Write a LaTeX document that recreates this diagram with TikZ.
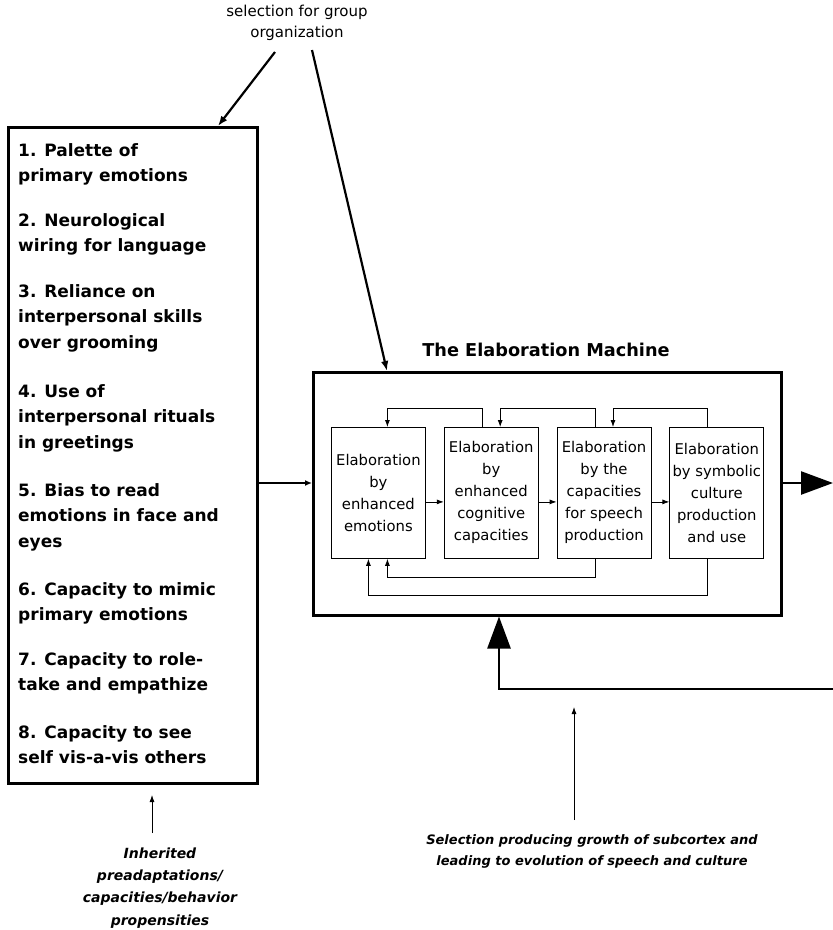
\documentclass[tikz,border=0pt]{standalone}
\usepackage{fontspec}
\setmainfont{DejaVu Sans}
\usetikzlibrary{positioning,arrows.meta}

\tikzset{
  itemtext/.style={anchor=base west, align=left, inner sep=0pt, font=\bfseries\fontsize{17}{25.5}\selectfont},
  elabbox/.style={draw, line width=0.8pt, minimum width=94pt, minimum height=131pt, align=center, inner sep=0pt, font=\fontsize{14.8}{22}\selectfont},
  captext/.style={anchor=base, align=center, inner sep=0pt, font=\bfseries\itshape\fontsize{14}{22.3}\selectfont},
  feed/.style={line width=0.8pt, -{Latex[length=7pt,width=5pt]}},
  toparrow/.style={line width=2.2pt, -{Latex[length=10pt,width=7.5pt]}},
  bigarrow/.style={line width=2.5pt, -{Triangle[length=32pt,width=23pt]}},
}

\begin{document}
\begin{tikzpicture}[x=1pt,y=1pt,yscale=-1]
\useasboundingbox (0,0) rectangle (833,930);

% top label
\node[anchor=base, align=center, inner sep=0pt, font=\fontsize{15}{20.5}\selectfont] (selgrp) at (297,37) {selection for group\\organization};
\coordinate (selL) at (275,52);
\coordinate (selR) at (312,50);

% preadaptations box
\node[draw, line width=2.5pt, minimum width=249pt, minimum height=656pt, anchor=north west, inner sep=0pt] (pal) at (7,126) {};
\foreach \yy/\txt [count=\i] in {
  181.5/{1. Palette of\\primary emotions},
  251.5/{2. Neurological\\wiring for language},
  348/{3. Reliance on\\interpersonal skills\\over grooming},
  448/{4. Use of\\interpersonal rituals\\in greetings},
  547/{5. Bias to read\\emotions in face and\\eyes},
  620.5/{6. Capacity to mimic\\primary emotions},
  690.5/{7. Capacity to role-\\take and empathize},
  763.5/{8. Capacity to see\\self vis-a-vis others}}
  \node[itemtext] (item\i) at (18,\yy) {\txt};
\coordinate (palin) at (218,126);

% the machine
\node[draw, line width=2.5pt, minimum width=468pt, minimum height=243pt, anchor=north west, inner sep=0pt] (mach) at (312,371) {};
\node[anchor=base, inner sep=0pt, font=\bfseries\fontsize{17.7}{20}\selectfont] (title) at (546,356) {The Elaboration Machine};
\coordinate (machin) at (387,371);

\node[elabbox, anchor=north west] (elabemo) at (331,427) {Elaboration\\by\\enhanced\\emotions};
\node[elabbox, right=18pt of elabemo] (elabcog) {Elaboration\\by\\enhanced\\cognitive\\capacities};
\node[elabbox, right=18pt of elabcog] (elabspe) {Elaboration\\by the\\capacities\\for speech\\production};
\node[elabbox, right=18pt of elabspe] (elabsym) {Elaboration\\by symbolic\\culture\\production\\and use};

% forward and feedback links
\foreach \a/\b in {elabemo/elabcog, elabcog/elabspe, elabspe/elabsym} {
  \draw[feed] ([yshift=9pt]\a.east) -- ([yshift=9pt]\b.west);
  \draw[feed] ([xshift=-9pt]\b.north) -- ++(0,-19) -| ([xshift=9pt]\a.north);
}
\draw[feed] ([xshift=-9pt]elabspe.south) -- ++(0,19) -| ([xshift=9pt]elabemo.south);
\draw[feed] ([xshift=-9.5pt]elabsym.south) -- ++(0,37) -| ([xshift=-10pt]elabemo.south);

% main flow
\coordinate (flow) at (0,483);
\coordinate (out) at (833,483);
\coordinate (ret) at (833,689);
\coordinate (retup) at (499,689);
\draw[line width=2pt, -{Latex[length=7pt,width=6pt]}] (pal.east |- flow) -- (mach.west |- flow);
\draw[bigarrow] (mach.east |- flow) -- (out);
\draw[bigarrow] (ret) -- (retup) -- (retup |- mach.south);

\draw[toparrow] (selL) -- (palin);
\draw[toparrow] (selR) -- (machin);

% bottom captions
\node[captext] (inh) at (160,925) {Inherited\\preadaptations/\\capacities/behavior\\propensities};
\node[captext, font=\bfseries\itshape\fontsize{13}{21}\selectfont] (subc) at (592,865) {Selection producing growth of subcortex and\\leading to evolution of speech and culture};
\coordinate (inhtip) at (152,795);
\coordinate (subctip) at (574,707);
\draw[feed] (inhtip |- 0,833) -- (inhtip);
\draw[feed] (subctip |- 0,820) -- (subctip);
\end{tikzpicture}
\end{document}
